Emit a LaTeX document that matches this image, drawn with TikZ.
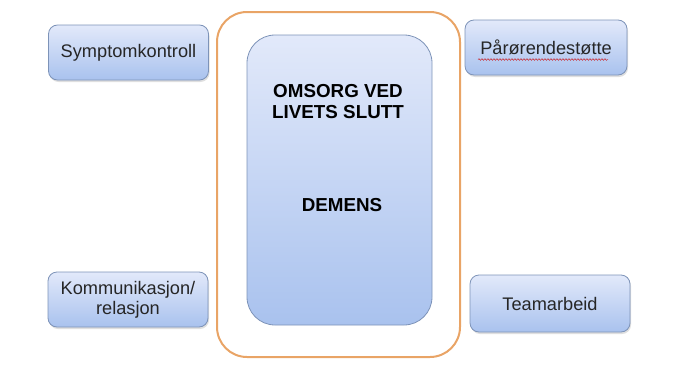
\documentclass[tikz,border=0pt]{standalone}
\usepackage{fontspec}
\setmainfont{Liberation Sans}
\usetikzlibrary{shadows,decorations.pathmorphing}

\definecolor{boxtop}{HTML}{E2E9FA}
\definecolor{boxbot}{HTML}{A9C2EE}
\definecolor{boxline}{HTML}{7D93B8}
\definecolor{ringline}{HTML}{E9A466}

\tikzset{
  topic/.style={draw=boxline, line width=0.8pt, rounded corners=9pt,
    top color=boxtop, bottom color=boxbot, align=center,
    minimum width=160pt, minimum height=55pt, inner sep=0pt,
    font=\fontsize{18.2}{20}\selectfont, text=black!85,
    drop shadow={shadow xshift=1pt, shadow yshift=-2pt, opacity=0.25}},
  ring/.style={draw=ringline, line width=2pt, rounded corners=30pt,
    minimum width=243pt, minimum height=345pt, inner sep=0pt},
  core/.style={draw=boxline, line width=0.8pt, rounded corners=28pt,
    top color=boxtop, bottom color=boxbot,
    minimum width=185pt, minimum height=290pt, inner sep=0pt},
  title/.style={font=\bfseries\fontsize{18.8}{21}\selectfont, align=center}
}

\begin{document}
\begin{tikzpicture}[x=1pt, y=-1pt]
\useasboundingbox (0,0) rectangle (679,364);

\node[ring] (ring) at (338.5,184.5) {};
\node[core] (core) at (339.5,180) {};

\node[title] (omsorg) at (338,102) {OMSORG VED\\LIVETS SLUTT};
\node[title] (demens) at (342,205) {DEMENS};

\node[topic] (sym) at (128.5,52.5) {Symptomkontroll};
\node[topic, minimum width=162pt] (par) at (546,47.5) {Pårørendestøtte};
\node[topic] (kom) at (128,299.5) {Kommunikasjon/\\relasjon};
\node[topic, minimum height=57pt] (team) at (550,303.5) {Teamarbeid};

% spell-check underline
\draw[red!80!black, line width=0.4pt, decorate,
  decoration={snake, amplitude=0.8pt, segment length=3pt}]
  ([shift={(-68,12)}]par.center) -- ([shift={(62,12)}]par.center);

\end{tikzpicture}
\end{document}
